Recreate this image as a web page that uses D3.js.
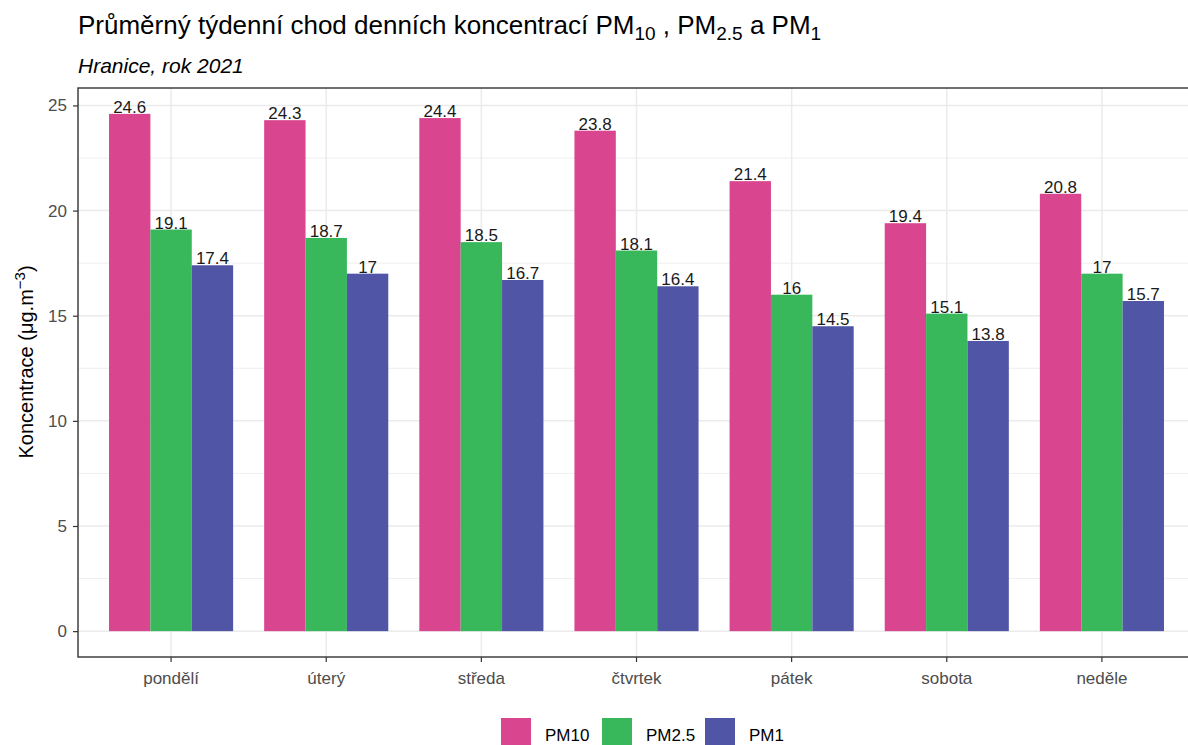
<!DOCTYPE html>
<html>
<head>
<meta charset="utf-8">
<script src="https://cdn.jsdelivr.net/npm/d3@7"></script>
<style>
  body { margin: 0; background: #fff; }
  svg { font-family: "Liberation Sans", Arial, sans-serif; }
</style>
</head>
<body>
<div id="chart"></div>
<script>
// Data
var days = ["pondělí", "úterý", "středa", "čtvrtek", "pátek", "sobota", "neděle"];
var seriesNames = ["PM10", "PM2.5", "PM1"];
var pm10 = [24.6, 24.3, 24.4, 23.8, 21.4, 19.4, 20.8];
var pm25 = [19.1, 18.7, 18.5, 18.1, 16, 15.1, 17];
var pm1 = [17.4, 17, 16.7, 16.4, 14.5, 13.8, 15.7];
var yTicks = [0, 5, 10, 15, 20, 25];
var yMinorTicks = [2.5, 7.5, 12.5, 17.5, 22.5];
var colors = ["#d9468f", "#38b85b", "#5056a5"];

var W = 1188, H = 745;
var panel = {left: 78, top: 88, right: 1195, bottom: 657};
var FONT = "Liberation Sans, Arial, sans-serif";

var rows = [];
days.forEach(function (d, i) {
  rows.push({day: d, series: "PM10", value: pm10[i]});
  rows.push({day: d, series: "PM2.5", value: pm25[i]});
  rows.push({day: d, series: "PM1", value: pm1[i]});
});

var svg = d3.select("#chart").append("svg")
    .attr("width", W)
    .attr("height", H);

// Scales (ggplot-like expansion)
var yScale = d3.scaleLinear().domain([-1.23, 25.83]).range([panel.bottom, panel.top]);
var step = (panel.right - panel.left) / (days.length + 0.2);
var xScale = d3.scaleBand().domain(days)
    .range([panel.left + 0.1 * step, panel.right - 0.1 * step])
    .paddingInner(0.2).paddingOuter(0.1);
var xInner = d3.scaleBand().domain(seriesNames).range([0, xScale.bandwidth()]);
var color = d3.scaleOrdinal().domain(seriesNames).range(colors);

svg.append("clipPath").attr("id", "pclip")
  .append("rect")
    .attr("x", panel.left).attr("y", panel.top)
    .attr("width", panel.right - panel.left).attr("height", panel.bottom - panel.top);

var plot = svg.append("g").attr("clip-path", "url(#pclip)");

// Grid lines
plot.selectAll(".minor").data(yMinorTicks).enter().append("line")
    .attr("x1", panel.left).attr("x2", panel.right)
    .attr("y1", function (d) { return yScale(d); })
    .attr("y2", function (d) { return yScale(d); })
    .attr("stroke", "#ebebeb").attr("stroke-width", 0.8);
plot.selectAll(".major").data(yTicks).enter().append("line")
    .attr("x1", panel.left).attr("x2", panel.right)
    .attr("y1", function (d) { return yScale(d); })
    .attr("y2", function (d) { return yScale(d); })
    .attr("stroke", "#ebebeb").attr("stroke-width", 1.5);
plot.selectAll(".vgrid").data(days).enter().append("line")
    .attr("y1", panel.top).attr("y2", panel.bottom)
    .attr("x1", function (d) { return xScale(d) + xScale.bandwidth() / 2; })
    .attr("x2", function (d) { return xScale(d) + xScale.bandwidth() / 2; })
    .attr("stroke", "#ebebeb").attr("stroke-width", 1.5);

// Bars
plot.selectAll(".bar").data(rows).enter().append("rect")
    .attr("x", function (d) { return xScale(d.day) + xInner(d.series); })
    .attr("width", xInner.bandwidth())
    .attr("y", function (d) { return yScale(d.value); })
    .attr("height", function (d) { return yScale(0) - yScale(d.value); })
    .attr("fill", function (d) { return color(d.series); });

// Bar labels
plot.selectAll(".lbl").data(rows).enter().append("text")
    .attr("x", function (d) { return xScale(d.day) + xInner(d.series) + xInner.bandwidth() / 2; })
    .attr("y", function (d) { return yScale(d.value) - 1; })
    .attr("text-anchor", "middle")
    .attr("font-size", "17px")
    .attr("fill", "#1a1a1a")
    .text(function (d) { return d.value; });

// Panel border
svg.append("rect")
    .attr("x", panel.left).attr("y", panel.top)
    .attr("width", panel.right - panel.left).attr("height", panel.bottom - panel.top)
    .attr("fill", "none").attr("stroke", "#333").attr("stroke-width", 1.4);

// Axes
var yAxis = d3.axisLeft(yScale).tickValues(yTicks).tickSize(5).tickPadding(6);
var gy = svg.append("g").attr("transform", "translate(" + panel.left + ",0)").call(yAxis);
gy.select(".domain").remove();
gy.selectAll("line").attr("stroke", "#333").attr("stroke-width", 1.2);
gy.selectAll("text").attr("font-size", "17px").attr("fill", "#4d4d4d")
    .attr("font-family", FONT);

var xAxis = d3.axisBottom(xScale).tickSize(5).tickPadding(10);
var gx = svg.append("g").attr("transform", "translate(0," + panel.bottom + ")").call(xAxis);
gx.select(".domain").remove();
gx.selectAll("line").attr("stroke", "#333").attr("stroke-width", 1.2);
gx.selectAll("text").attr("font-size", "17px").attr("fill", "#4d4d4d")
    .attr("font-family", FONT).attr("dy", "0.71em");

// Title with subscripts
var title = svg.append("text").attr("x", panel.left).attr("y", 34)
    .attr("font-size", "26px").attr("fill", "#000");
title.append("tspan").text("Průměrný týdenní chod denních koncentrací PM");
title.append("tspan").attr("dy", 6).attr("font-size", "19px").text("10");
title.append("tspan").attr("dy", -6).text(" , PM");
title.append("tspan").attr("dy", 6).attr("font-size", "19px").text("2.5");
title.append("tspan").attr("dy", -6).text(" a PM");
title.append("tspan").attr("dy", 6).attr("font-size", "19px").text("1");

svg.append("text").attr("x", panel.left).attr("y", 73)
    .attr("font-size", "21px").attr("font-style", "italic").attr("fill", "#000")
    .text("Hranice, rok 2021");

// Y axis title
var ylab = svg.append("text")
    .attr("transform", "translate(33,362) rotate(-90)")
    .attr("text-anchor", "middle")
    .attr("font-size", "20px").attr("fill", "#000");
ylab.append("tspan").text("Koncentrace (μg.m");
ylab.append("tspan").attr("dy", -8).attr("font-size", "15px").text("−3");
ylab.append("tspan").attr("dy", 8).text(")");

// Legend
var legendX = [501, 602, 705];
var lg = svg.selectAll(".legend").data(seriesNames).enter().append("g")
    .attr("transform", function (d, i) { return "translate(" + legendX[i] + ",718)"; });
lg.append("rect").attr("width", 30).attr("height", 30)
    .attr("fill", function (d) { return color(d); });
lg.append("text").attr("x", 44).attr("y", 23)
    .attr("font-size", "17px").attr("fill", "#000")
    .text(function (d) { return d; });
</script>
</body>
</html>
